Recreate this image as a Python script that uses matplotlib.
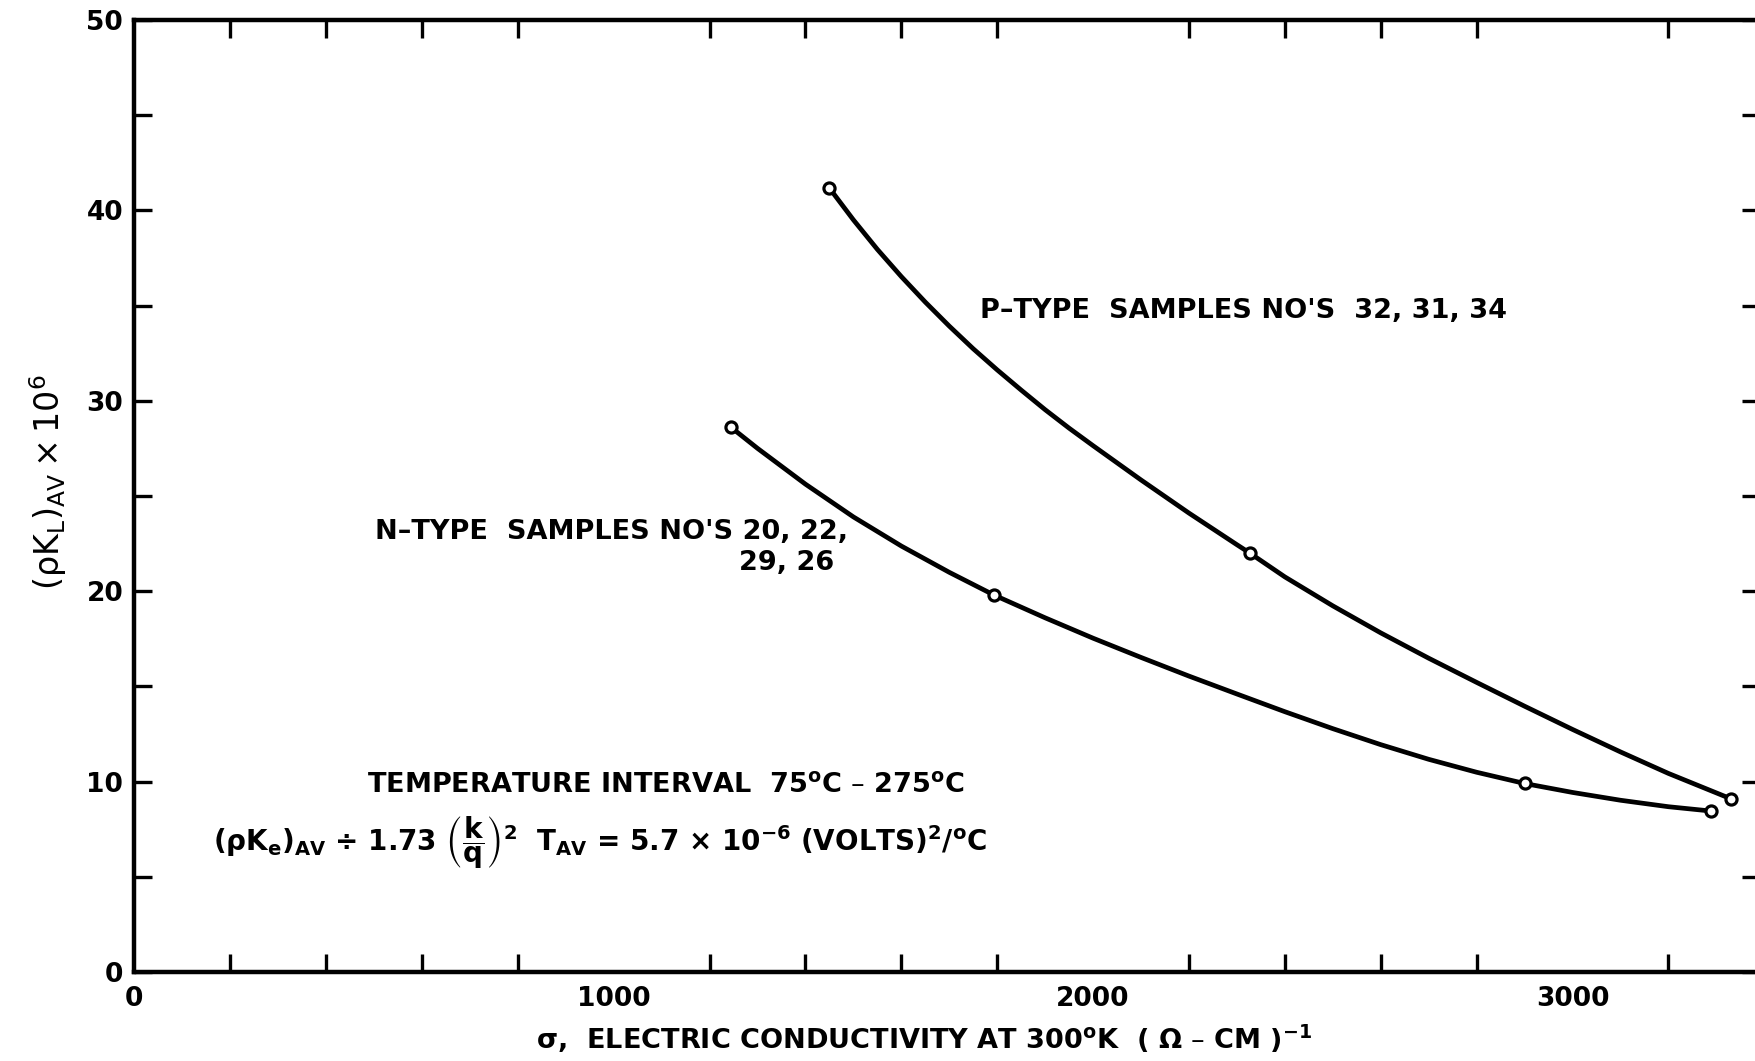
import numpy as np
import matplotlib.pyplot as plt
from matplotlib.ticker import MultipleLocator, FixedLocator

# measured points (open circles)
p_sigma = [1449, 2327, 3330]
p_rhok = [41.2, 22.0, 9.1]
n_sigma = [1245, 1793, 2900, 3290]
n_rhok = [28.6, 19.8, 9.9, 8.45]

# hand-faired curves through the points
p_curve_x = [1449, 1500, 1550, 1600, 1650, 1700, 1750, 1800, 1850, 1900, 1950, 2000, 2100,
             2200, 2300, 2327, 2400, 2500, 2600, 2700, 2800, 2900, 3000, 3100, 3200, 3330]
p_curve_y = [41.20, 39.50, 37.95, 36.52, 35.18, 33.92, 32.73, 31.62, 30.56, 29.53, 28.56, 27.64, 25.84,
             24.10, 22.44, 22.00, 20.75, 19.23, 17.81, 16.48, 15.21, 13.96, 12.74, 11.56, 10.43, 9.10]
n_curve_x = [1245, 1300, 1400, 1500, 1600, 1700, 1793, 1900, 2000, 2100, 2200, 2300,
             2400, 2500, 2600, 2700, 2800, 2900, 3000, 3100, 3200, 3290]
n_curve_y = [28.60, 27.50, 25.62, 23.90, 22.37, 20.99, 19.80, 18.60, 17.53, 16.52, 15.54, 14.60,
             13.67, 12.78, 11.94, 11.17, 10.49, 9.90, 9.43, 9.02, 8.68, 8.45]

x_labels = [0, 1000, 2000, 3000]
y_labels = [0, 10, 20, 30, 40, 50]

plt.rcParams['font.family'] = ['DejaVu Sans']
plt.rcParams['mathtext.fontset'] = 'dejavusans'
plt.rcParams['mathtext.default'] = 'regular'

fig = plt.figure(figsize=(17.56, 10.61), dpi=100)
ax = fig.add_axes([0.0765, 0.0839, 0.926, 0.8973])

line_kw = dict(color='black', lw=3.4, solid_capstyle='round', solid_joinstyle='round')
ax.plot(p_curve_x, p_curve_y, **line_kw)
ax.plot(n_curve_x, n_curve_y, **line_kw)
ax.plot(p_sigma, p_rhok, 'o', ms=8, mfc='white', mec='black', mew=2.3, zorder=3)
ax.plot(n_sigma, n_rhok, 'o', ms=8, mfc='white', mec='black', mew=2.3, zorder=3)

ax.set_xlim(0, 3392)
ax.set_ylim(0, 50)

for s in ax.spines.values():
    s.set_linewidth(3.2)
ax.spines['right'].set_visible(False)

ax.xaxis.set_major_locator(FixedLocator(x_labels))
ax.xaxis.set_minor_locator(MultipleLocator(200))
ax.yaxis.set_major_locator(FixedLocator(y_labels))
ax.yaxis.set_minor_locator(MultipleLocator(5))

ax.tick_params(which='both', direction='in', top=True, right=True, width=2.4, length=13)
ax.tick_params(axis='x', which='major', length=0, pad=10, labelsize=19)
ax.tick_params(axis='y', which='major', length=13, pad=8, labelsize=19)
for lab in ax.get_xticklabels() + ax.get_yticklabels():
    lab.set_fontweight('bold')

txt = dict(fontsize=19.5, color='black', fontweight='bold')
ax.text(1764, 34.7, "P\u2013TYPE  SAMPLES NO'S  32, 31, 34", ha='left', va='center', **txt)
ax.text(1489, 23.1, "N\u2013TYPE  SAMPLES NO'S 20, 22,", ha='right', va='center', **txt)
ax.text(1460, 21.5, "29, 26", ha='right', va='center', **txt)
ax.text(486, 9.8, "TEMPERATURE INTERVAL  75$^{\\mathbf{o}}$C \u2013 275$^{\\mathbf{o}}$C",
        ha='left', va='center', **txt)
ax.text(165, 6.8,
        r"$(\rho K_{e})_{AV}$ $\div$ 1.73 $\left(\dfrac{k}{q}\right)^{2}$  $T_{AV}$ = 5.7 $\times$ 10$^{-6}$ (VOLTS)$^{2}$/$^{o}$C",
        ha='left', va='center', fontsize=20, fontweight='bold')

ax.set_xlabel("$\\sigma$,  ELECTRIC CONDUCTIVITY AT 300$^{\\mathbf{o}}$K  ( $\\Omega$ \u2013 CM )$^{-1}$",
              fontsize=19.5, fontweight='bold')
ax.xaxis.set_label_coords(0.486, -0.053)
ax.set_ylabel(r"$(\rho K_{L})_{AV}\times 10^{6}$", fontsize=24)
ax.yaxis.set_label_coords(-0.040, 0.515)

fig.savefig('out.png', dpi=100)
